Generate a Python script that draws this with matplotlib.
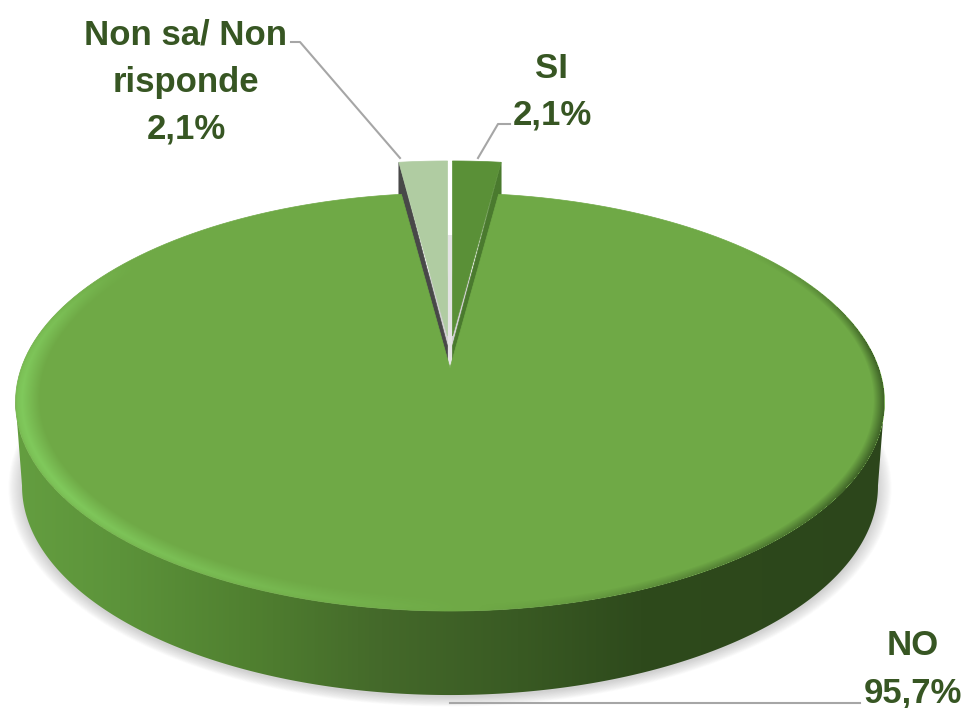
import numpy as np
import matplotlib
matplotlib.use('Agg')
from matplotlib import pyplot as plt
from matplotlib.colors import LinearSegmentedColormap, to_rgb
from matplotlib.patches import Polygon

# data
labels = ['SI', 'NO', 'Non sa/ Non\nrisponde']
values = [2.1, 95.7, 2.1]

# pie geometry in pixels, perspective circle
W, H = 965, 708
CX, Y0 = 450, 368
A, B, K = 428.7, 203.5, -0.1627
DEPTH = 84
LIFT = 32
GREEN = '#6fa946'
TEXT = '#375623'
LEADER = '#a6a6a6'


def project(theta, r=1.0, dx=0.0, dy=0.0, a=A):
    # theta is clockwise from the top, in degrees
    t = np.radians(theta)
    u, v = r * np.sin(t), -r * np.cos(t)
    w = 1 + K * v
    return CX + dx + a * u / w, Y0 + dy + B * v / w


def sector(start, end, dx=0.0, dy=0.0):
    th = np.linspace(start, end, 200)
    x, y = project(th, dx=dx, dy=dy)
    return np.column_stack([np.r_[CX + dx, x], np.r_[Y0 + dy, y]])


def pct(v):
    return '{:.1f}%'.format(v).replace('.', ',')


fig = plt.figure(figsize=(W / 100, H / 100), dpi=100)
ax = fig.add_axes([0, 0, 1, 1])
ax.set_xlim(0, W)
ax.set_ylim(H, 0)
ax.axis('off')

edges = np.cumsum([0] + values) / sum(values) * 360
si_start, si_end = edges[0], edges[1]
no_start, no_end = edges[1], edges[2]
ns_start, ns_end = edges[2], edges[3]

# soft shadow under the base
th = np.linspace(0, 360, 400)
bx, by = project(th, dy=DEPTH, a=A * 0.985)
for s in np.linspace(1.045, 1.0, 14):
    pts = np.column_stack([CX + (bx - CX) * (1 + (s - 1) * 0.7), 486 + (by - 486) * s + 2])
    ax.add_patch(Polygon(pts, closed=True, fc='#707070', ec='none', alpha=0.024, zorder=1))

# side wall with a left to right gradient, between the widest points of both rims
th = np.linspace(0, 360, 1441)
tx, ty = project(th)
i_right, i_left = np.argmax(tx), np.argmin(tx)
th = np.linspace(th[i_right], th[i_left], 400)
tx, ty = project(th)
bx, by = project(th, dy=DEPTH, a=A * 0.985)
side = Polygon(np.column_stack([np.r_[tx, bx[::-1]], np.r_[ty, by[::-1]]]), closed=True,
               fc='none', ec='none', transform=ax.transData)
ax.add_patch(side)
cmap = LinearSegmentedColormap.from_list('side', [
    (0.0, '#649e40'), (0.12, '#5c933a'), (0.27, '#508030'), (0.42, '#44692a'),
    (0.58, '#395a23'), (0.72, '#2e4a1c'), (1.0, '#2c461b')])
im = ax.imshow(np.linspace(0, 1, 512)[None, :], extent=[15, 885, 710, 190], cmap=cmap,
               aspect='auto', zorder=2)
im.set_clip_path(side)
ax.set_xlim(0, W)
ax.set_ylim(H, 0)

# gap between the two pulled out slices
ax.plot([CX, CX], [235, Y0 - 3], color='#e4e4e4', lw=3.2, zorder=2.5, solid_capstyle='butt')

# pulled out slices, wall first, then the face
si_dx, ns_dx = 2.5, -2.5
for start, end, dx, edge, wall, face in [
        (si_start, si_end, si_dx, si_end, '#4a7a2e', '#5a9037'),
        (ns_start, ns_end, ns_dx, ns_start, '#484848', '#b0cca2')]:
    rx, ry = project(edge, dx=dx, dy=-LIFT)
    wall_pts = [(CX + dx, Y0 - LIFT + 10), (rx, ry), (rx, ry + DEPTH), (CX + dx, Y0 - LIFT + DEPTH)]
    ax.add_patch(Polygon(wall_pts, closed=True, fc=wall, ec=wall, lw=0.5, zorder=3))
    ax.add_patch(Polygon(sector(start, end, dx=dx, dy=-LIFT), closed=True, fc=face, ec=face,
                         lw=0.5, zorder=3.2))

# big slice face
ax.add_patch(Polygon(sector(no_start, no_end), closed=True, fc=GREEN, ec=GREEN, lw=0.5, zorder=4))

# rim bevel as a per pixel overlay, light on the left and front, dark on the right
px, py = np.meshgrid(np.arange(W) + 0.5, np.arange(H) + 0.5)
nx, ny = (px - CX) / A, (py - Y0) / B
v = ny / (1 - K * ny)
u = nx * (1 + K * v)
r = np.hypot(u, v)
ang = np.degrees(np.arctan2(u, -v)) % 360
light = np.interp(ang, [178, 205, 235, 265, 285, 305], [0, 0.55, 1.0, 1.0, 0.7, 0])
dark = np.interp(ang, [50, 85, 120, 150, 177], [0, 0.85, 0.85, 0.45, 0])
light_r = np.interp(r, [0.945, 0.985, 0.995, 1.0], [0, 1, 0.8, 0.5])
dark_r = np.interp(r, [0.975, 0.998], [0, 1])
overlay = np.zeros((H, W, 4))
a_light = light * light_r
a_dark = dark * dark_r
c_light, c_dark = np.array(to_rgb('#80c95c')), np.array(to_rgb('#3a5c24'))
overlay[..., :3] = np.where((light > 0)[..., None], c_light, c_dark)
overlay[..., 3] = np.where(r <= 1, a_light + a_dark, 0)
ax.imshow(overlay, extent=[0, W, H, 0], aspect='auto', interpolation='nearest', zorder=5)
ax.set_xlim(0, W)
ax.set_ylim(H, 0)

# leader lines
ax.plot([291, 300, 400], [42, 42, 158], color=LEADER, lw=1.5, zorder=6)
ax.plot([510, 498, 478], [124, 124, 158], color=LEADER, lw=1.5, zorder=6)
ax.plot([450, 860], [703, 703], color=LEADER, lw=1.5, zorder=6)

# labels
font = dict(family=['Liberation Sans', 'DejaVu Sans'], fontsize=25, fontweight='bold',
            color=TEXT, ha='center', va='baseline', linespacing=1.55, zorder=7)
ax.text(186, 139, labels[2] + '\n' + pct(values[2]), **font)
ax.text(552, 125, labels[0] + '\n' + pct(values[0]), **font)
ax.text(913, 702, labels[1] + '\n' + pct(values[1]), **font)

fig.savefig('out.png', dpi=100)
